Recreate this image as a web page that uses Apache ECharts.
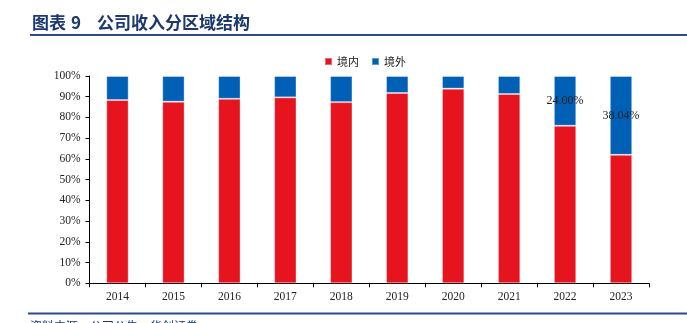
<!DOCTYPE html>
<html>
<head>
<meta charset="utf-8">
<script src="https://cdn.jsdelivr.net/npm/echarts@6/dist/echarts.min.js"></script>
<style>html,body{margin:0;padding:0;background:#fff;}#c{width:687px;height:323px;}</style>
</head>
<body>
<div id="c"></div>
<script>
const categories = ['2014','2015','2016','2017','2018','2019','2020','2021','2022','2023'];
const domestic = [88.4, 87.6, 89.0, 89.7, 87.4, 91.8, 93.9, 91.3, 76.00, 61.96];
const overseas = [11.6, 12.4, 11.0, 10.3, 12.6, 8.2, 6.1, 8.7, 24.00, 38.04];
const labeledIdx = [8, 9];
const yTicks = {min: 0, max: 100, interval: 10};

const chart = echarts.init(document.getElementById('c'), null, {renderer: 'canvas'});
const serif = '"Liberation Serif", "Times New Roman", serif';
const cjk = '"Noto Sans CJK SC", sans-serif';
chart.setOption({
  animation: false,
  backgroundColor: '#fff',
  legend: {
    data: ['境内', '境外'],
    top: 51, left: 319,
    itemWidth: 7, itemHeight: 7, itemGap: 12,
    textStyle: {fontFamily: cjk, fontSize: 11, color: '#222'},
    icon: 'rect'
  },
  grid: {left: 89.5, right: 38, top: 76, bottom: 39.7, containLabel: false},
  xAxis: {
    type: 'category',
    data: categories,
    axisLine: {lineStyle: {color: '#000', width: 1}},
    axisTick: {show: true, length: 4, lineStyle: {color: '#000'}},
    axisLabel: {fontFamily: serif, fontSize: 11.5, color: '#222', margin: 8}
  },
  yAxis: {
    type: 'value',
    min: yTicks.min, max: yTicks.max, interval: yTicks.interval,
    axisLine: {show: true, lineStyle: {color: '#000', width: 1}},
    axisTick: {show: true, length: 4, lineStyle: {color: '#000'}},
    splitLine: {show: false},
    axisLabel: {formatter: '{value}%', fontFamily: serif, fontSize: 11.5, color: '#222', margin: 9}
  },
  series: [
    {
      name: '境内', type: 'bar', stack: 'a', data: domestic, barWidth: '40%',
      itemStyle: {color: '#E6141E', borderColor: 'rgba(255,255,255,0.35)', borderWidth: 1}
    },
    {
      name: '境外', type: 'bar', stack: 'a', barWidth: '40%',
      data: overseas.map((v, i) => labeledIdx.includes(i)
        ? {value: v, label: {show: true}} : v),
      itemStyle: {color: '#0060B6', borderColor: 'rgba(255,255,255,0.35)', borderWidth: 1},
      label: {
        show: false, position: 'inside',
        formatter: p => p.value.toFixed(2) + '%',
        fontFamily: serif, fontSize: 12, color: '#222'
      }
    }
  ],
  graphic: [
    {type: 'text', left: 32, top: 14, style: {text: '图表', font: 'bold 17px ' + cjk, fill: '#1c3870'}},
    {type: 'text', left: 71, top: 14, style: {text: '9', font: 'bold 17px ' + cjk, fill: '#1c3870'}},
    {type: 'text', left: 97, top: 14, style: {text: '公司收入分区域结构', font: 'bold 17px ' + cjk, fill: '#1c3870'}},
    {type: 'rect', shape: {x: 30, y: 34, width: 657, height: 2}, style: {fill: '#2a4a8a'}},
    {type: 'rect', shape: {x: 28, y: 312.5, width: 659, height: 2}, style: {fill: '#2a4a8a'}},
    {type: 'text', left: 30, top: 320, style: {text: '资料来源：公司公告，华创证券', font: '12px ' + cjk, fill: '#1c3870'}}
  ]
});
</script>
</body>
</html>
